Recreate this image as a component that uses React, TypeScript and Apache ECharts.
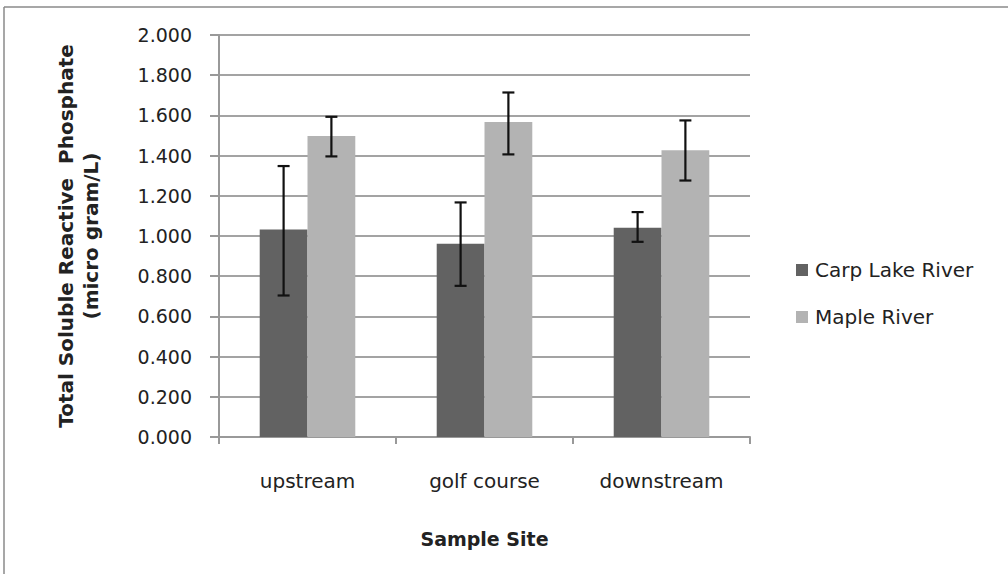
import React, { useEffect, useRef } from "react";
import * as echarts from "echarts";

const categories = ["upstream", "golf course", "downstream"];
const carpValues = [1.032, 0.961, 1.041];
const mapleValues = [1.497, 1.567, 1.427];
const carpLow = [0.704, 0.752, 0.971];
const carpHigh = [1.348, 1.167, 1.119];
const mapleLow = [1.396, 1.406, 1.276];
const mapleHigh = [1.593, 1.714, 1.575];
const yTicks = [0, 0.2, 0.4, 0.6, 0.8, 1.0, 1.2, 1.4, 1.6, 1.8, 2.0];

const GAP = 0.46;

function errorSeries(name: string, low: number[], high: number[], side: number) {
  return {
    type: "custom",
    name: name + " error",
    silent: true,
    z: 10,
    data: categories.map((c, i) => [i, low[i], high[i]]),
    encode: { x: 0, y: [1, 2] },
    renderItem: (params: any, api: any) => {
      const idx = api.value(0);
      const lo = api.coord([idx, api.value(1)]);
      const hi = api.coord([idx, api.value(2)]);
      const band = api.size([1, 0])[0];
      const bw = (band * (1 - GAP)) / 2;
      const x = lo[0] + side * bw / 2;
      const cap = 6;
      const st = { stroke: "#111", lineWidth: 2.2 };
      return {
        type: "group",
        children: [
          { type: "line", shape: { x1: x, y1: lo[1], x2: x, y2: hi[1] }, style: st },
          { type: "line", shape: { x1: x - cap, y1: lo[1], x2: x + cap, y2: lo[1] }, style: st },
          { type: "line", shape: { x1: x - cap, y1: hi[1], x2: x + cap, y2: hi[1] }, style: st },
        ],
      };
    },
  };
}

export default function App() {
  const ref = useRef<HTMLDivElement>(null);
  useEffect(() => {
    if (!ref.current) return;
    const chart = echarts.init(ref.current, null, { renderer: "svg" });
    const font = "DejaVu Sans";
    chart.setOption({
      animation: false,
      backgroundColor: "#ffffff",
      textStyle: { fontFamily: font },
      grid: { left: 219, right: 258, top: 35, bottom: 137, containLabel: false },
      legend: {
        orient: "vertical",
        left: 791,
        top: 254,
        itemWidth: 12,
        itemHeight: 12,
        itemGap: 25,
        icon: "rect",
        data: ["Carp Lake River", "Maple River"],
        textStyle: { fontSize: 20, color: "#222", fontFamily: font, lineHeight: 22, padding: [0, 0, 0, 2] },
      },
      xAxis: {
        type: "category",
        data: categories,
        name: "Sample Site",
        nameLocation: "middle",
        nameGap: 92,
        nameTextStyle: { fontSize: 19, fontWeight: "bold", color: "#222", fontFamily: font },
        axisLine: { lineStyle: { color: "#999", width: 2 } },
        axisTick: { show: true, length: 7, alignWithLabel: false, lineStyle: { color: "#999", width: 2 } },
        axisLabel: { fontSize: 20, color: "#222", margin: 34, fontFamily: font },
        splitLine: { show: false },
      },
      yAxis: {
        type: "value",
        min: 0,
        max: 2,
        interval: 0.2,
        name: "Total Soluble Reactive  Phosphate\n(micro gram/L)",
        nameLocation: "middle",
        nameRotate: 90,
        nameGap: 116,
        nameTextStyle: { fontSize: 20, fontWeight: "bold", color: "#222", fontFamily: font, lineHeight: 25, align: "center" },
        axisLine: { show: true, lineStyle: { color: "#999", width: 2 } },
        axisTick: { show: true, length: 9, lineStyle: { color: "#999", width: 2 } },
        axisLabel: {
          fontSize: 19,
          color: "#222",
          margin: 27,
          fontFamily: font,
          formatter: (v: number) => (yTicks.some((t) => Math.abs(t - v) < 1e-9) ? v.toFixed(3) : ""),
        },
        splitLine: { show: true, lineStyle: { color: "#a3a3a3", width: 2 } },
      },
      series: [
        {
          name: "Carp Lake River",
          type: "bar",
          data: carpValues,
          barGap: "0%",
          barCategoryGap: GAP * 100 + "%",
          itemStyle: { color: "#626262" },
        },
        {
          name: "Maple River",
          type: "bar",
          data: mapleValues,
          barGap: "0%",
          barCategoryGap: GAP * 100 + "%",
          itemStyle: { color: "#b3b3b3" },
        },
        errorSeries("Carp Lake River", carpLow, carpHigh, -1),
        errorSeries("Maple River", mapleLow, mapleHigh, 1),
      ],
      graphic: [
        { type: "line", shape: { x1: 4, y1: 7, x2: 1008, y2: 7 }, style: { stroke: "#8a8a8a", lineWidth: 1.5 } },
        { type: "line", shape: { x1: 4, y1: 7, x2: 4, y2: 574 }, style: { stroke: "#8a8a8a", lineWidth: 1.5 } },
      ],
    });
    return () => chart.dispose();
  }, []);
  return <div ref={ref} style={{ position: "absolute", left: 0, top: 0, width: 1008, height: 574 }} />;
}
